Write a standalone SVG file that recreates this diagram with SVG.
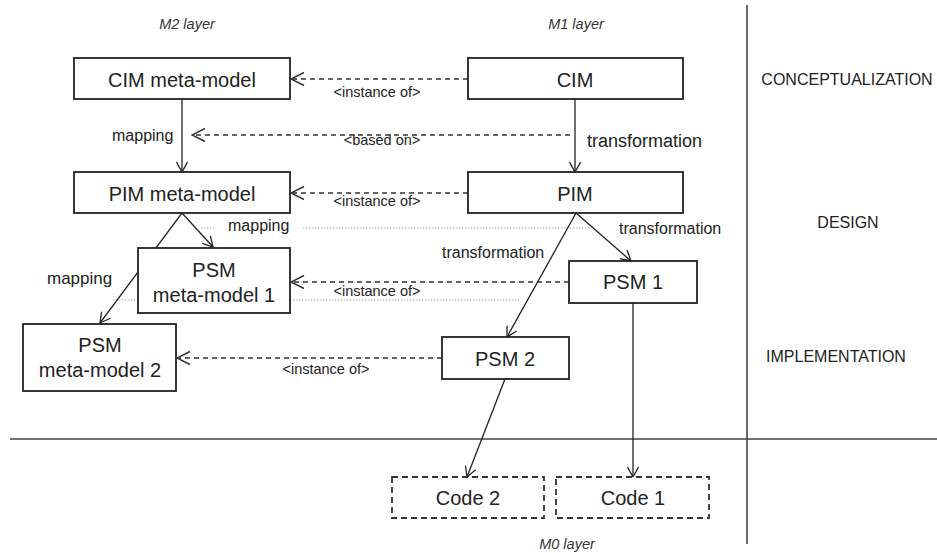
<svg xmlns="http://www.w3.org/2000/svg" width="937" height="553" viewBox="0 0 937 553">
<style>
text{font-family:"Liberation Sans",Arial,sans-serif;fill:#222}
.box{fill:#fff;stroke:#222;stroke-width:1.8}
.code{fill:#fff;stroke:#333;stroke-width:1.8;stroke-dasharray:6 4}
.bt{font-size:20px;text-anchor:middle}
.lbl{font-size:14.5px}
.tr{font-size:16px}
.lay{font-size:14.5px;font-style:italic;text-anchor:middle;fill:#333}
.phase{font-size:16px;fill:#222}
.solid{fill:none;stroke:#222;stroke-width:1.3;marker-end:url(#ah)}
.dash{fill:none;stroke:#333;stroke-width:1.5;stroke-dasharray:5 4;marker-end:url(#ahd)}
.dot{fill:none;stroke:#aaa;stroke-width:1;stroke-dasharray:1.5 1.5}
.sep{stroke:#444;stroke-width:1.6}
</style>
<defs>
<marker id="ah" markerUnits="userSpaceOnUse" viewBox="0 0 12 12" refX="11" refY="6" markerWidth="12" markerHeight="12" orient="auto">
<path d="M1,0.5 L11,6 L1,11.5" fill="none" stroke="#222" stroke-width="1.3"/>
</marker>
<marker id="ahd" markerUnits="userSpaceOnUse" viewBox="0 0 16 16" refX="15" refY="8" markerWidth="16" markerHeight="16" orient="auto">
<path d="M2,1.5 L15,8 L2,14.5" fill="none" stroke="#333" stroke-width="1.5"/>
</marker>
</defs>

<!-- separators -->
<line class="sep" x1="747" y1="5" x2="747" y2="544"/>
<line class="sep" x1="10" y1="439" x2="937" y2="439"/>

<!-- layer / phase labels -->
<text class="lay" x="187" y="29">M2 layer</text>
<text class="lay" x="576" y="29">M1 layer</text>
<text class="lay" x="567" y="549">M0 layer</text>
<text class="phase" x="847" y="85" text-anchor="middle">CONCEPTUALIZATION</text>
<text class="phase" x="848" y="228" text-anchor="middle">DESIGN</text>
<text class="phase" x="836" y="362" text-anchor="middle">IMPLEMENTATION</text>

<!-- connectors -->
<g id="connectors">
<line class="dot" x1="201" y1="228" x2="214" y2="228"/>
<line class="dot" x1="303" y1="228" x2="590" y2="228"/>
<line class="dot" x1="113" y1="300" x2="519" y2="300"/>
<line class="solid" x1="182" y1="99" x2="182" y2="172"/>
<line class="solid" x1="182" y1="213" x2="213" y2="247"/>
<line class="solid" x1="182" y1="213" x2="100" y2="323"/>
<line class="solid" x1="575" y1="99" x2="575" y2="172"/>
<line class="solid" x1="576" y1="213" x2="631" y2="261"/>
<line class="solid" x1="576" y1="213" x2="507" y2="337"/>
<line class="solid" x1="505" y1="379" x2="467" y2="477"/>
<line class="solid" x1="633" y1="303" x2="633" y2="477"/>
<line class="dash" x1="468" y1="79" x2="291" y2="79"/>
<line class="dash" x1="570" y1="135" x2="192" y2="135"/>
<line class="dash" x1="468" y1="193" x2="291" y2="193"/>
<line class="dash" x1="569" y1="282" x2="291" y2="282"/>
<line class="dash" x1="442" y1="358" x2="177" y2="358"/>
<text class="lbl" x="377" y="97" text-anchor="middle">&lt;instance of&gt;</text>
<text class="lbl" x="382" y="145" text-anchor="middle">&lt;based on&gt;</text>
<text class="lbl" x="377" y="206" text-anchor="middle">&lt;instance of&gt;</text>
<text class="lbl" x="377" y="296" text-anchor="middle">&lt;instance of&gt;</text>
<text class="lbl" x="326" y="374" text-anchor="middle">&lt;instance of&gt;</text>
<text class="tr" x="112" y="141">mapping</text>
<text class="tr" x="228" y="231">mapping</text>
<text class="tr" x="47" y="284" style="font-size:17px">mapping</text>
<text class="tr" x="587" y="147" style="font-size:18px">transformation</text>
<text class="tr" x="619" y="234">transformation</text>
<text class="tr" x="442" y="258">transformation</text>
</g>

<!-- nodes -->
<g id="cim-mm"><rect class="box" x="74" y="58" width="216" height="41"/><text class="bt" x="182" y="87">CIM meta-model</text></g>
<g id="pim-mm"><rect class="box" x="74" y="172" width="216" height="41"/><text class="bt" x="182" y="201">PIM meta-model</text></g>
<g id="psm-mm1"><rect class="box" x="138" y="248" width="152" height="65"/><text class="bt" x="214" y="277">PSM</text><text class="bt" x="214" y="302">meta-model 1</text></g>
<g id="psm-mm2"><rect class="box" x="23" y="324" width="153" height="67"/><text class="bt" x="100" y="352">PSM</text><text class="bt" x="100" y="377">meta-model 2</text></g>
<g id="cim"><rect class="box" x="468" y="58" width="215" height="41"/><text class="bt" x="575" y="87">CIM</text></g>
<g id="pim"><rect class="box" x="468" y="172" width="215" height="41"/><text class="bt" x="575" y="201">PIM</text></g>
<g id="psm1"><rect class="box" x="569" y="261" width="128" height="42"/><text class="bt" x="633" y="289">PSM 1</text></g>
<g id="psm2"><rect class="box" x="442" y="337" width="127" height="42"/><text class="bt" x="505" y="366">PSM 2</text></g>
<g id="code2"><rect class="code" x="392" y="477" width="152" height="41"/><text class="bt" x="468" y="505">Code 2</text></g>
<g id="code1"><rect class="code" x="556" y="477" width="153" height="41"/><text class="bt" x="633" y="505">Code 1</text></g>
</svg>
